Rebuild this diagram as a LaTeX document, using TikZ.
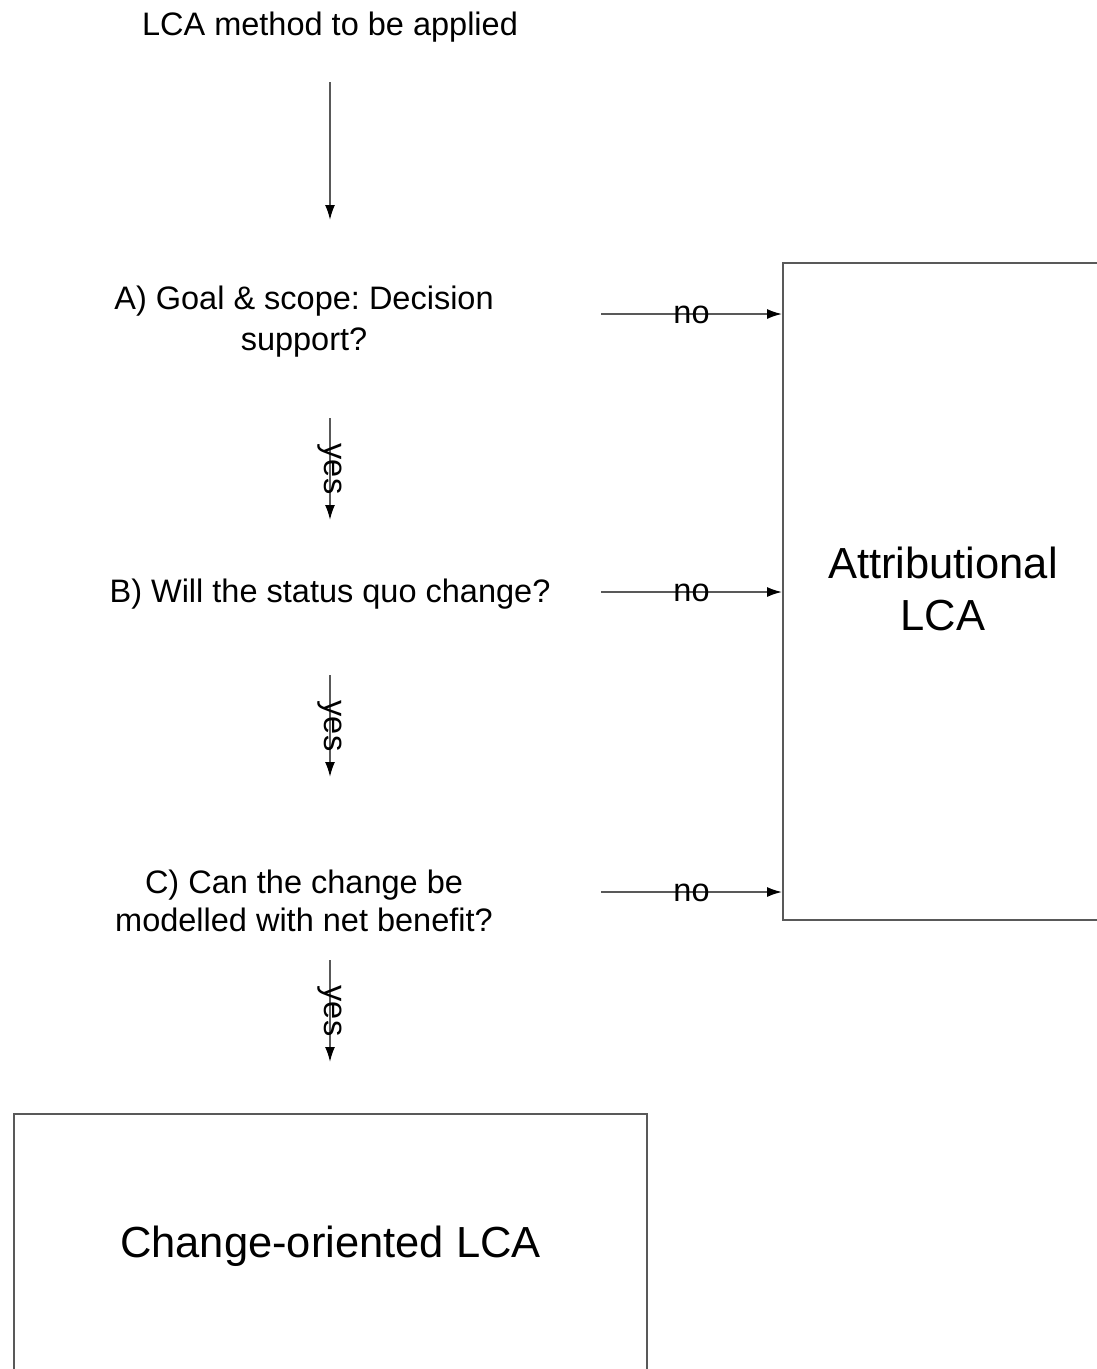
\documentclass[tikz,border=0pt]{standalone}
\usepackage{fontspec}
\setmainfont{Liberation Sans}
\usetikzlibrary{arrows.meta}
\frenchspacing
\tikzset{
  conn/.style={draw=black!65, line width=1.8pt, -{Latex[length=15pt,width=10pt,black]}},
  qtext/.style={align=center, inner sep=0pt, font=\fontsize{32.5}{40}\selectfont},
  lbl/.style={inner sep=0pt, font=\fontsize{32.5}{40}\selectfont},
  resbox/.style={draw=black!65, line width=1.8pt, inner sep=0pt},
  restext/.style={align=center, inner sep=0pt, font=\fontsize{43.5}{52}\selectfont},
}
\begin{document}
\begin{tikzpicture}[x=1pt,y=-1pt]
\useasboundingbox (0,0) rectangle (1096,1369);
\node[qtext] (start) at (330,27) {LCA method to be applied};
\node[qtext, font=\fontsize{32.5}{41}\selectfont] (qa) at (304,321.5) {A) Goal \& scope: Decision\\support?};
\node[qtext] (qb) at (330,594) {B) Will the status quo change?};
\node[qtext, font=\fontsize{32.5}{38}\selectfont] (qc) at (304,900.5) {C) Can the change be\\modelled with net benefit?};
\node[resbox, minimum width=320pt, minimum height=657pt] (attr) at (943,591.5) {};
\node[restext] (attrtext) at ([yshift=3pt]attr.center) {Attributional\\LCA};
\node[resbox, minimum width=633pt, minimum height=257pt] (chg) at (330.5,1242.5) {};
\node[restext] (chgtext) at ([yshift=-4pt]chg.center) {Change-oriented LCA};
% vertical arrow end points
\coordinate (s0) at (330,82);  \coordinate (s1) at (330,220);
\coordinate (a0) at (330,418); \coordinate (a1) at (330,520);
\coordinate (b0) at (330,675); \coordinate (b1) at (330,777);
\coordinate (c0) at (330,960); \coordinate (c1) at (330,1062);
% horizontal arrow start points
\coordinate (na) at (601,314);
\coordinate (nb) at (601,592);
\coordinate (nc) at (601,892);
\draw[conn] (s0) -- (s1);
\draw[conn] (a0) -- node[lbl, rotate=-90] {yes} (a1);
\draw[conn] (b0) -- node[lbl, rotate=-90] {yes} (b1);
\draw[conn] (c0) -- node[lbl, rotate=-90] {yes} (c1);
\draw[conn] (na) -- node[lbl, yshift=-1pt] {no} (na -| attr.west);
\draw[conn] (nb) -- node[lbl, yshift=-1pt] {no} (nb -| attr.west);
\draw[conn] (nc) -- node[lbl, yshift=-1pt] {no} (nc -| attr.west);
\end{tikzpicture}
\end{document}
